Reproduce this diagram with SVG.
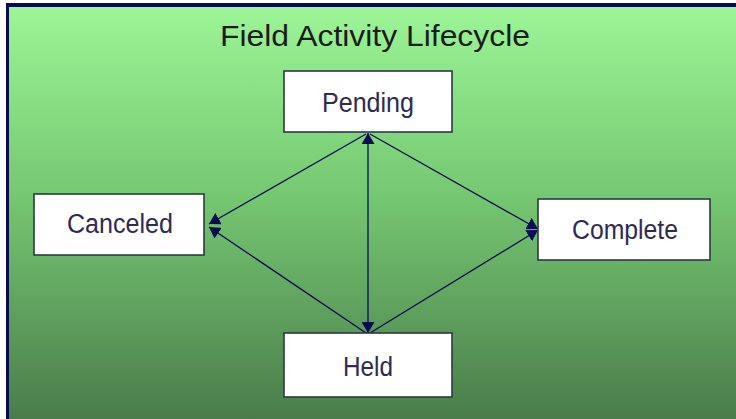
<svg xmlns="http://www.w3.org/2000/svg" width="736" height="419" viewBox="0 0 736 419">
  <defs>
    <linearGradient id="bg" x1="0" y1="0" x2="0" y2="1">
      <stop offset="0" stop-color="#9cf596"/>
      <stop offset="0.45" stop-color="#76c872"/>
      <stop offset="1" stop-color="#4a7c4b"/>
    </linearGradient>
    <marker id="arr" markerUnits="userSpaceOnUse" markerWidth="13" markerHeight="13" refX="11" refY="6.5" orient="auto-start-reverse">
      <path d="M0,0 L11,6.5 L0,13 Z" fill="#0c0c55"/>
    </marker>
    <style>
      .box { fill: #ffffff; stroke: #2b3a40; stroke-width: 1.6; }
      .lbl { font-family: "Liberation Sans", Arial, sans-serif; font-size: 27px; fill: #2e2a55; text-anchor: middle; }
      .title { font-family: "Liberation Sans", Arial, sans-serif; font-size: 30px; fill: #1c1c1c; text-anchor: middle; }
      .conn { stroke: #0c0c55; stroke-width: 1.3; fill: none; }
    </style>
  </defs>

  <rect x="0" y="0" width="736" height="419" fill="#ffffff"/>
  <rect x="6" y="3" width="730" height="416" fill="#0a0a50"/>
  <rect x="9" y="7" width="727" height="412" fill="url(#bg)"/>

  <text class="title" x="375" y="46" textLength="310" lengthAdjust="spacingAndGlyphs">Field Activity Lifecycle</text>

  <g id="connectors">
    <line class="conn" x1="366" y1="134" x2="209" y2="224" marker-end="url(#arr)"/>
    <line class="conn" x1="370" y1="134" x2="538" y2="229" marker-end="url(#arr)"/>
    <line class="conn" x1="368" y1="133" x2="368" y2="333" marker-start="url(#arr)" marker-end="url(#arr)"/>
    <line class="conn" x1="366" y1="333" x2="209" y2="227" marker-end="url(#arr)"/>
    <line class="conn" x1="370" y1="333" x2="538" y2="230" marker-end="url(#arr)"/>
  </g>

  <g id="pending">
    <rect class="box" x="284" y="71" width="168" height="61"/>
    <text class="lbl" x="368" y="112" textLength="92" lengthAdjust="spacingAndGlyphs">Pending</text>
  </g>
  <g id="canceled">
    <rect class="box" x="34" y="194" width="170" height="61"/>
    <text class="lbl" x="120" y="233" textLength="106" lengthAdjust="spacingAndGlyphs">Canceled</text>
  </g>
  <g id="complete">
    <rect class="box" x="538" y="199" width="172" height="61"/>
    <text class="lbl" x="625" y="239" textLength="106" lengthAdjust="spacingAndGlyphs">Complete</text>
  </g>
  <g id="held">
    <rect class="box" x="284" y="333" width="168" height="64"/>
    <text class="lbl" x="368" y="376" textLength="50" lengthAdjust="spacingAndGlyphs">Held</text>
  </g>
</svg>
